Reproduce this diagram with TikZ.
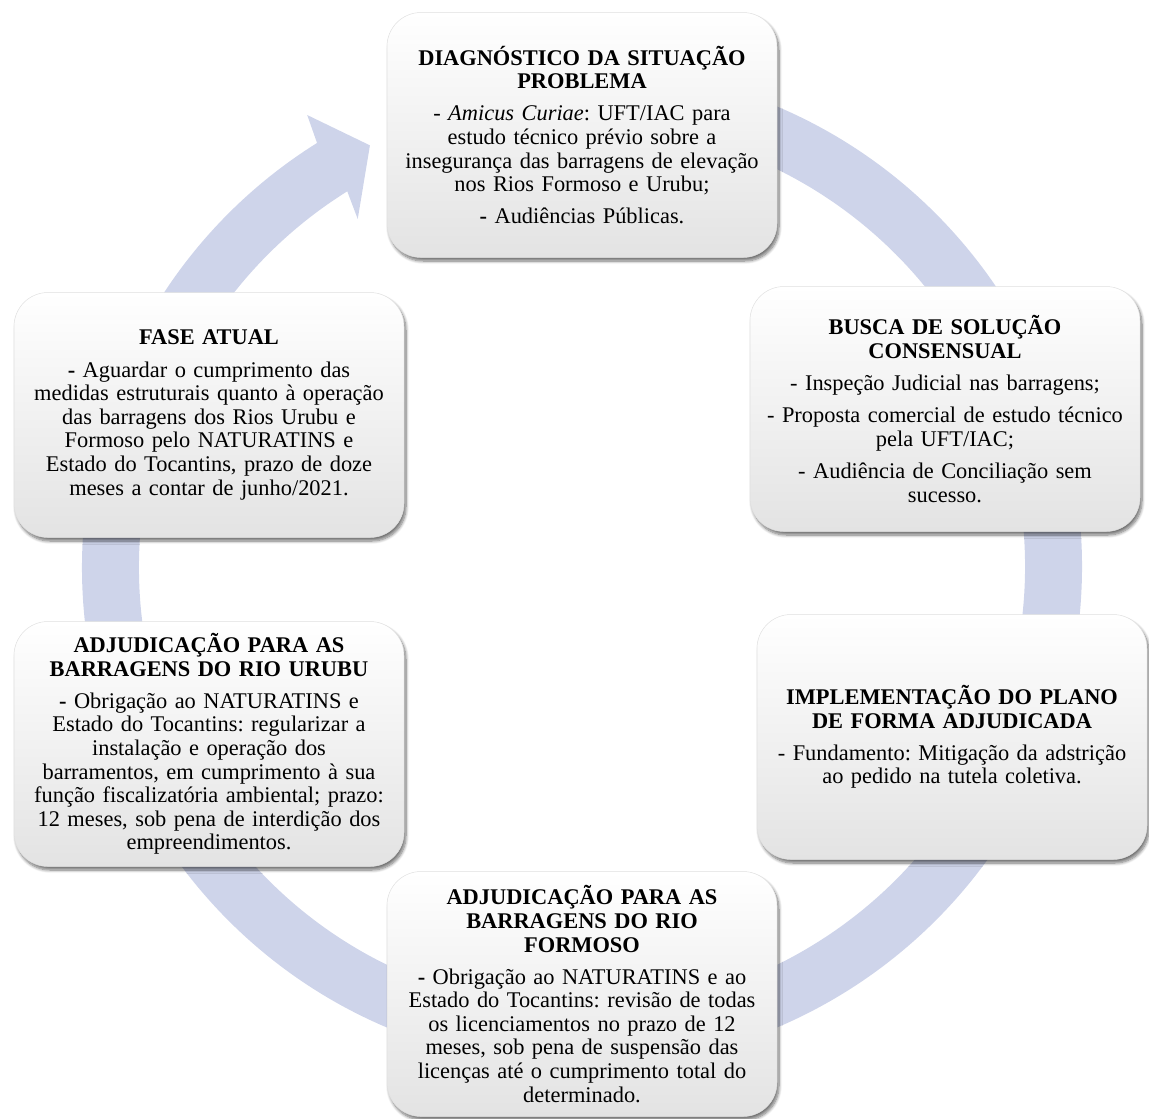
\documentclass[tikz,border=0pt]{standalone}
\usepackage{fontspec}
\setmainfont{Liberation Serif}
\usetikzlibrary{calc,shadows.blur}
\definecolor{ringcol}{HTML}{CED4EA}
\frenchspacing
\begin{document}
\begin{tikzpicture}[x=1pt,y=1pt]
\tikzset{
  stage/.style={rounded corners=34pt, minimum width=390pt, minimum height=245pt,
    text width=384pt, align=center, inner sep=0pt,
    top color=white, bottom color=black!11, draw=black!12, line width=0.5pt,
    blur shadow={shadow xshift=2pt, shadow yshift=-3.5pt, shadow blur radius=3pt, shadow blur steps=8, shadow opacity=55},
    font=\frenchspacing\fontsize{22.4}{23.6}\selectfont},
}
\useasboundingbox (0,0) rectangle (1149,-1119);
\coordinate (C) at (582,-567);
% circular arrow
\fill[ringcol] ($(C)+(85:500)$) arc[start angle=85, end angle=-238, radius=500]
  -- ($(C)+(-238.7:529)$) -- ($(C)+(-243.3:472)$) -- ($(C)+(-237.2:414)$)
  -- ($(C)+(-238:443)$) arc[start angle=-238, end angle=85, radius=443] -- cycle;

\node[stage] (diag) at (582,-135) {\textbf{DIAGNÓSTICO DA SITUAÇÃO}\\ \textbf{PROBLEMA}\\[8.5pt]
- \textit{Amicus Curiae}: UFT/IAC para\\ estudo técnico prévio sobre a\\ insegurança das barragens de elevação\\ nos Rios Formoso e Urubu;\\[8.5pt]
\textbf{-} Audiências Públicas.};

\node[stage] (busca) at (945,-409) {\textbf{BUSCA DE SOLUÇÃO}\\ \textbf{CONSENSUAL}\\[8.5pt]
- Inspeção Judicial nas barragens;\\[8.5pt]
- Proposta comercial de estudo técnico\\ pela UFT/IAC;\\[8.5pt]
- Audiência de Conciliação sem\\ sucesso.};

\node[stage] (impl) at (952,-737) {\textbf{IMPLEMENTAÇÃO DO PLANO}\\ \textbf{DE FORMA ADJUDICADA}\\[8.5pt]
- Fundamento: Mitigação da adstrição\\ ao pedido na tutela coletiva.};

\node[stage] (formoso) at (582,-994) {\textbf{ADJUDICAÇÃO PARA AS}\\ \textbf{BARRAGENS DO RIO}\\ \textbf{FORMOSO}\\[8.5pt]
\textbf{-} Obrigação ao NATURATINS e ao\\ Estado do Tocantins: revisão de todas\\ os licenciamentos no prazo de 12\\ meses, sob pena de suspensão das\\ licenças até o cumprimento total do\\ determinado.};

\node[stage] (urubu) at (209,-744) {\textbf{ADJUDICAÇÃO PARA AS}\\ \textbf{BARRAGENS DO RIO URUBU}\\[8.5pt]
\textbf{-} Obrigação ao NATURATINS e\\ Estado do Tocantins: regularizar a\\ instalação e operação dos\\ barramentos, em cumprimento à sua\\ função fiscalizatória ambiental; prazo:\\ 12 meses, sob pena de interdição dos\\ empreendimentos.};

\node[stage] (fase) at (209,-415) {\textbf{FASE ATUAL}\\[8.5pt]
\textbf{-} Aguardar o cumprimento das\\ medidas estruturais quanto à operação\\ das barragens dos Rios Urubu e\\ Formoso pelo NATURATINS e\\ Estado do Tocantins, prazo de doze\\ meses a contar de junho/2021.};
\end{tikzpicture}
\end{document}
